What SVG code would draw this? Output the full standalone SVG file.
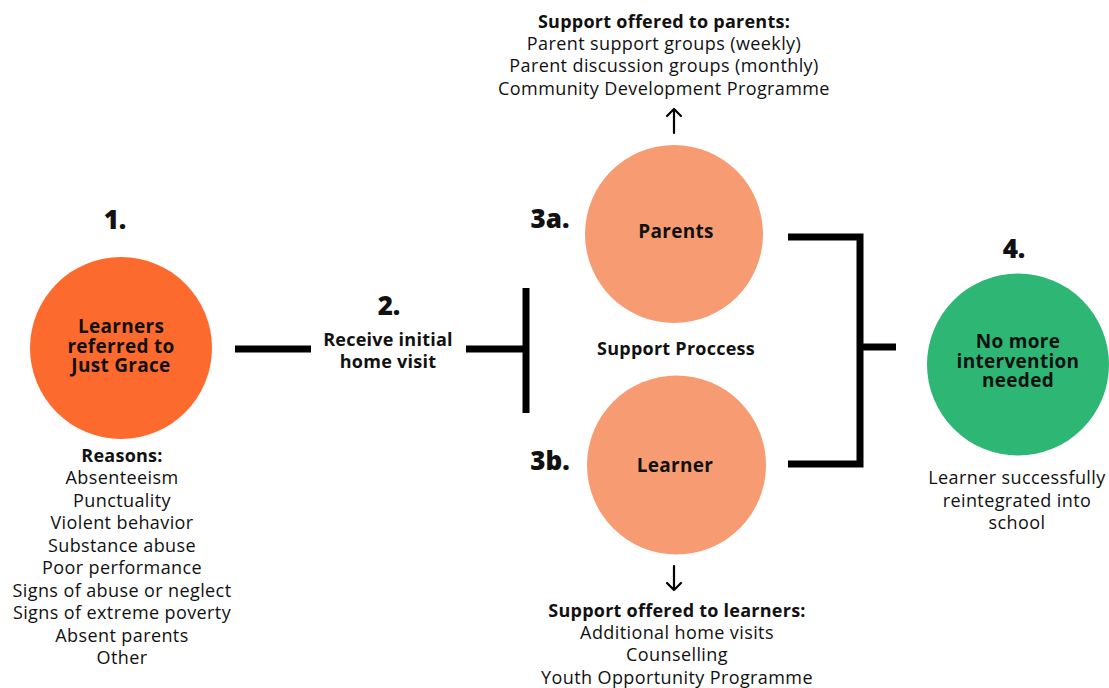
<svg xmlns="http://www.w3.org/2000/svg" width="1109" height="688" viewBox="0 0 1109 688">
<style>
text{font-family:"Open Sans","Lato",sans-serif;fill:#111;text-anchor:middle}
.t{font-size:18px;letter-spacing:0.4px}
.b{font-size:18px;font-weight:700;letter-spacing:0.25px}
.n{font-size:26px;font-weight:800}
.c{font-size:19px;font-weight:700;letter-spacing:0.3px}
.ln{stroke:#000;stroke-width:7;fill:none}
.ar{stroke:#000;stroke-width:2.2;fill:none;stroke-linecap:round;stroke-linejoin:round}
</style>
<rect width="1109" height="688" fill="#fff"/>
<g id="connectors">
<line class="ln" x1="235" y1="349" x2="311" y2="349"/>
<line class="ln" x1="466" y1="349" x2="526" y2="349"/>
<line class="ln" x1="526" y1="288" x2="526" y2="413"/>
<polyline class="ln" points="788,237 860,237 860,464 788,464"/>
<line class="ln" x1="860" y1="347" x2="896" y2="347"/>
<path class="ar" d="M674,133 V109 M667,116 L674,109 L681,116"/>
<path class="ar" d="M674,566 V590 M667,583 L674,590 L681,583"/>
</g>
<g id="node1">
<text class="n" x="115" y="229">1.</text>
<circle cx="121" cy="348" r="91" fill="#FD6A2E"/>
<text class="c" x="121" y="333">Learners</text>
<text class="c" x="121" y="352.5">referred to</text>
<text class="c" x="121" y="372">Just Grace</text>
<text class="b" x="122" y="462">Reasons:</text>
<text class="t" x="122" y="484">Absenteeism</text>
<text class="t" x="122" y="507">Punctuality</text>
<text class="t" x="122" y="529">Violent behavior</text>
<text class="t" x="122" y="552">Substance abuse</text>
<text class="t" x="122" y="574">Poor performance</text>
<text class="t" x="122" y="597">Signs of abuse or neglect</text>
<text class="t" x="122" y="619">Signs of extreme poverty</text>
<text class="t" x="122" y="642">Absent parents</text>
<text class="t" x="122" y="664">Other</text>
</g>
<g id="node2">
<text class="n" x="389" y="315">2.</text>
<text class="b" x="388" y="346">Receive initial</text>
<text class="b" x="388" y="368">home visit</text>
</g>
<g id="node3a">
<text class="n" x="550" y="228">3a.</text>
<circle cx="674" cy="234" r="89" fill="#F79C72"/>
<text class="c" x="676" y="238">Parents</text>
<text class="b" x="664" y="28">Support offered to parents:</text>
<text class="t" x="664" y="50">Parent support groups (weekly)</text>
<text class="t" x="664" y="72">Parent discussion groups (monthly)</text>
<text class="t" x="664" y="95">Community Development Programme</text>
</g>
<g id="process">
<text class="b" x="676" y="355">Support Proccess</text>
</g>
<g id="node3b">
<text class="n" x="550" y="470">3b.</text>
<circle cx="676.5" cy="465" r="89.5" fill="#F79C72"/>
<text class="c" x="675" y="472">Learner</text>
<text class="b" x="677" y="617">Support offered to learners:</text>
<text class="t" x="677" y="639">Additional home visits</text>
<text class="t" x="677" y="661">Counselling</text>
<text class="t" x="677" y="684">Youth Opportunity Programme</text>
</g>
<g id="node4">
<text class="n" x="1014" y="258">4.</text>
<circle cx="1018" cy="364.5" r="91" fill="#2DB674"/>
<text class="c" x="1018" y="348">No more</text>
<text class="c" x="1018" y="368">intervention</text>
<text class="c" x="1018" y="387">needed</text>
<text class="t" x="1017" y="484">Learner successfully</text>
<text class="t" x="1017" y="507">reintegrated into</text>
<text class="t" x="1017" y="529">school</text>
</g>
</svg>
